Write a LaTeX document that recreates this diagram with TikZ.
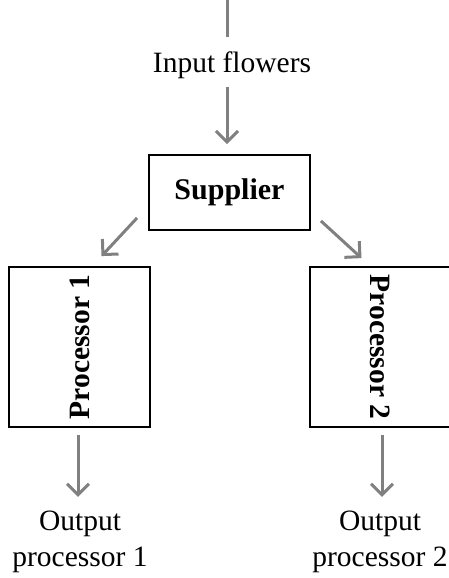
\documentclass[tikz,border=0pt]{standalone}
\usepackage{fontspec}
\setmainfont{Liberation Serif}
\usetikzlibrary{arrows.meta,positioning}

\tikzset{
  box/.style={rectangle, draw, line width=1.8pt, inner sep=0pt},
  flow/.style={draw=black!50, line width=3pt, -{Straight Barb[length=11pt,width=22pt]}},
  feed/.style={draw=black!50, line width=3pt}
}

\begin{document}
\begin{tikzpicture}[x=1pt, y=-1pt, font=\fontsize{29.5}{36}\selectfont]
\useasboundingbox (0,0) rectangle (448,578);
\coordinate (top) at (227,0);
\node (input) [inner sep=2pt] at (232,65) {Input flowers};
\node (supplier) [box, minimum width=161pt, minimum height=75pt, font=\fontsize{30}{36}\selectfont\bfseries] at (229.5,192.5) {Supplier};
\node (proc1) [box, minimum width=141pt, minimum height=160pt] at (79.5,347) {\rotatebox{90}{\bfseries Processor 1}};
\node (proc2) [box, minimum width=141pt, minimum height=160pt] at (380.5,347) {\rotatebox{-90}{\bfseries Processor 2}};
\node (out1) [align=center, inner sep=2pt] at (80,542) {Output\\processor 1};
\node (out2) [align=center, inner sep=2pt] at (380,542) {Output\\processor 2};

\draw[feed] (top) -- (top |- 0,37);
\draw[flow, shorten <=6pt, shorten >=10pt] (input.south -| top) -- (supplier.north -| top);
\draw[flow] ([shift={(-11,-13)}]supplier.south west) -- ([shift={(22,-10)}]proc1.north);
\draw[flow] ([shift={(10,-10)}]supplier.south east) -- ([shift={(-19,-8)}]proc2.north);
\draw[flow, shorten <=7pt, shorten >=12pt] (proc1.south -| 78,0) -- (out1.north -| 78,0);
\draw[flow, shorten <=7pt, shorten >=12pt] (proc2.south -| 382,0) -- (out2.north -| 382,0);
\end{tikzpicture}
\end{document}
